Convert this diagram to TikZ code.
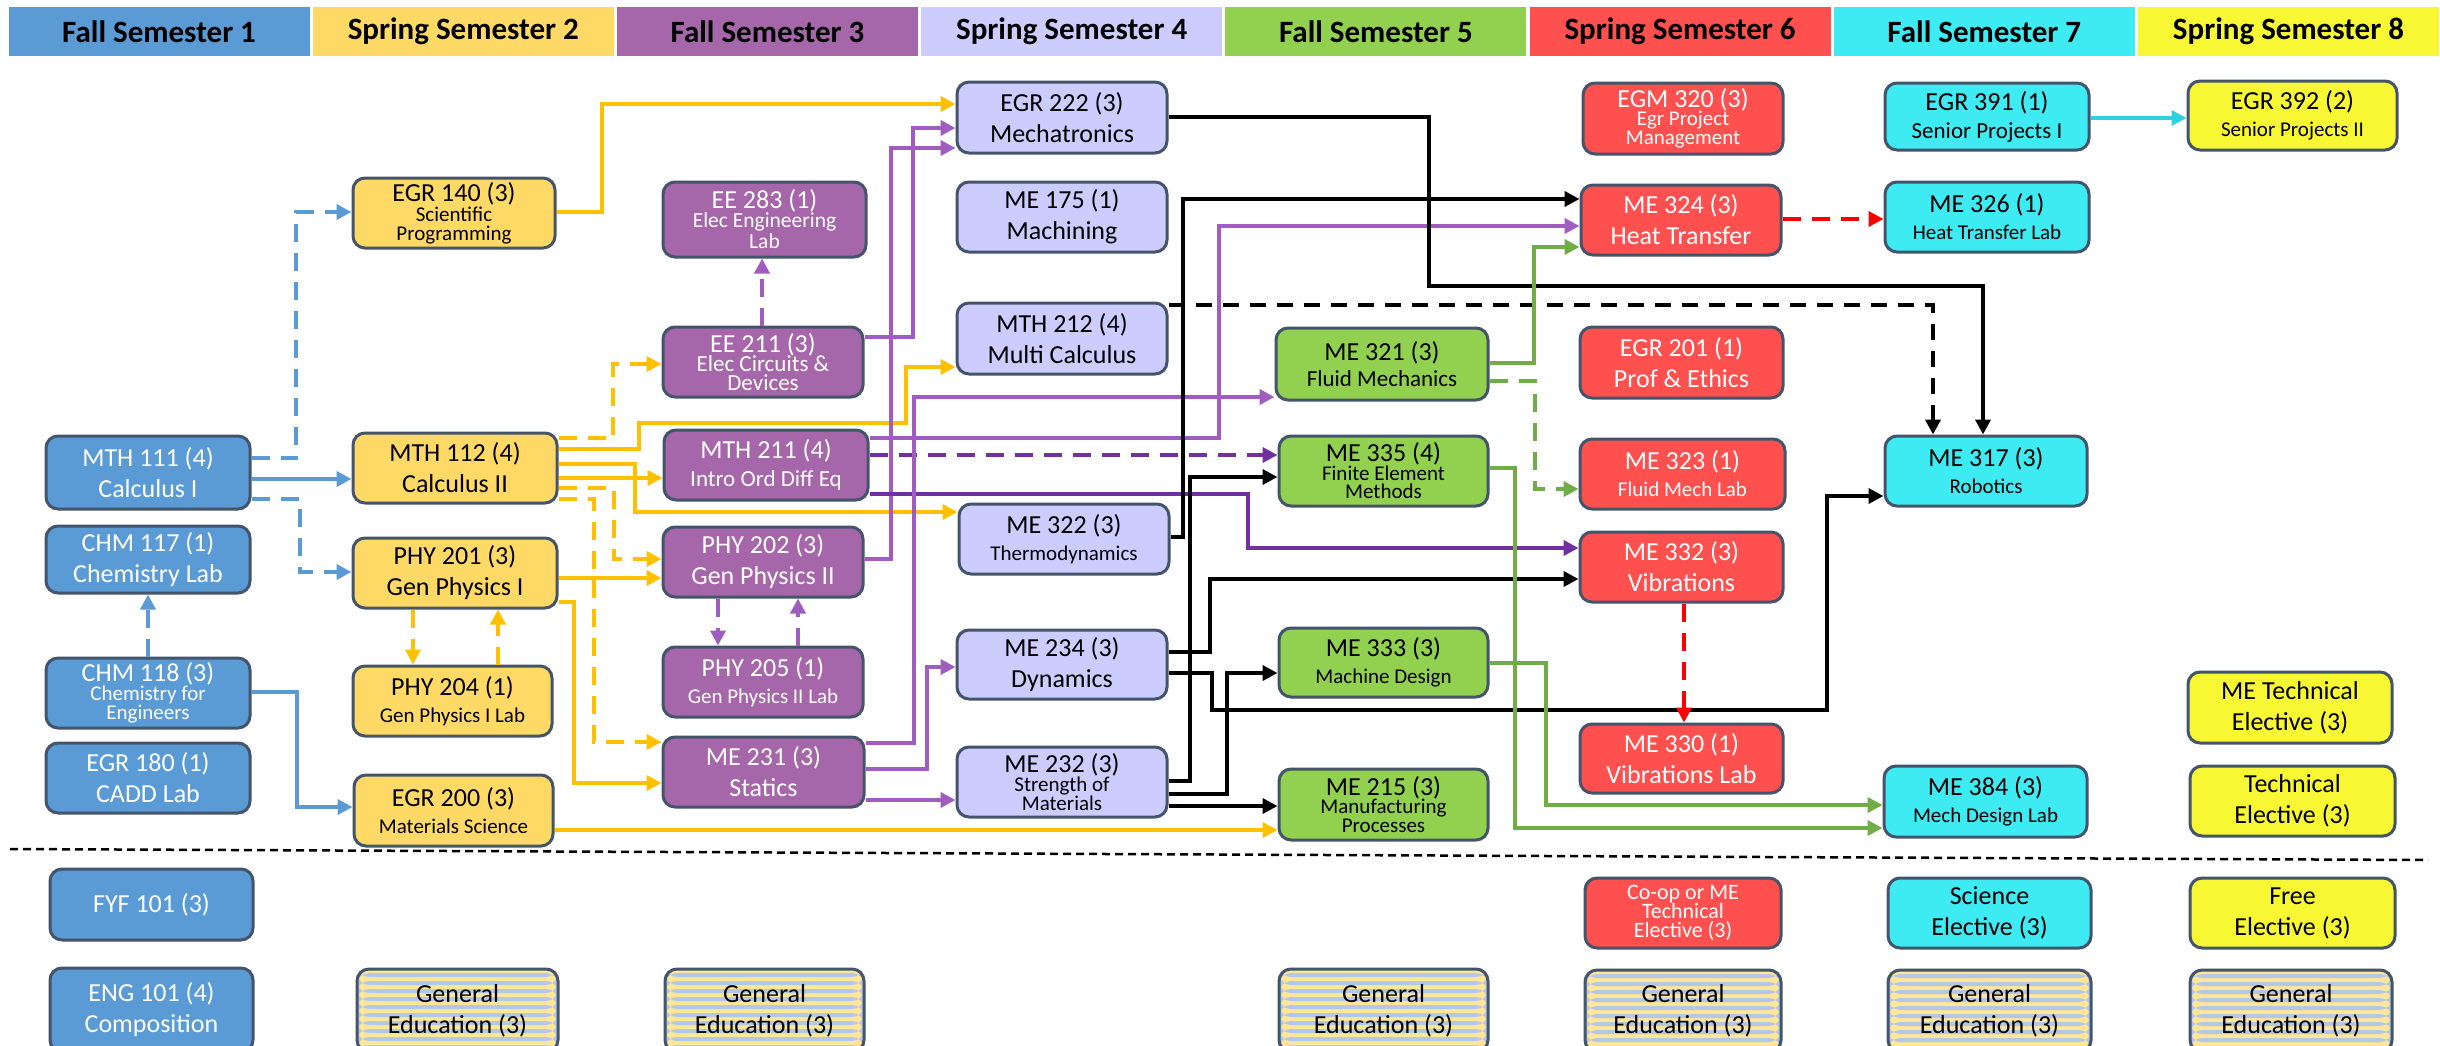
\documentclass[tikz,border=0pt]{standalone}
\usepackage{fontspec}
\setmainfont{Carlito}
\usetikzlibrary{arrows.meta}
\definecolor{cA}{HTML}{5B9BD5}
\definecolor{cB}{HTML}{FFD966}
\definecolor{cC}{HTML}{A666AA}
\definecolor{cD}{HTML}{CCCCFF}
\definecolor{cE}{HTML}{92D050}
\definecolor{cF}{HTML}{FF5050}
\definecolor{cG}{HTML}{3FEBF3}
\definecolor{cH}{HTML}{F7F733}
\definecolor{bline}{HTML}{44546A}
\definecolor{aBlue}{HTML}{5B9BD5}
\definecolor{aGold}{HTML}{FFC000}
\definecolor{aPur}{HTML}{A05CBE}
\definecolor{aDPur}{HTML}{7030A0}
\definecolor{aGrn}{HTML}{70AD47}
\definecolor{aRed}{HTML}{FF0000}
\definecolor{aCyan}{HTML}{2FD0E0}
\definecolor{geY}{HTML}{FFE699}
\definecolor{geB}{HTML}{B4C7E7}
\newcommand\Tbig{\fontsize{26}{31}\selectfont}
\newcommand\Tmid{\fontsize{23}{27}\selectfont}
\newcommand\Tsm{\fontsize{21}{25}\selectfont}
\newcommand\Tee{\fontsize{21.5}{25}\selectfont}
\newcommand\Thdr{\fontsize{31}{36}\selectfont\bfseries}
\newcommand\crs[7]{%
 \pgfmathsetmacro\bxX{(#2+#4)/2}%
 \pgfmathsetmacro\bxY{(#3+#5)/2}%
 \pgfmathsetmacro\bxW{#4-#2}%
 \pgfmathsetmacro\bxH{#5-#3}%
 \node[cbox,#6,minimum width=\bxW pt,minimum height=\bxH pt] (#1) at (\bxX,\bxY) {#7};}
\tikzset{
 cbox/.style={draw=bline, line width=3pt, rounded corners=12pt, inner sep=0pt, align=center, font=\Tbig},
 wt/.style={text=white},
 hdr/.style={inner sep=0pt, font=\Thdr, text=black},
 gened/.style={fill=geY, path picture={
   \foreach \k in {0,...,12}{
     \fill[geB] ([yshift={-(\k*8+4)*1pt}]path picture bounding box.north west) rectangle ([yshift={-(\k*8+8)*1pt}]path picture bounding box.north east);
   }}},
 conn/.style={line width=4pt, -{Triangle[length=15pt,width=15pt]}},
 dsh/.style={dash pattern=on 18pt off 11pt},
 kdsh/.style={dash pattern=on 16pt off 11pt},
 sepline/.style={line width=2.5pt, dash pattern=on 8pt off 5pt, black},
}
\begin{document}
\begin{tikzpicture}[x=1pt,y=-1pt]
\useasboundingbox (0,0) rectangle (2440,1045);
\fill[white] (0,0) rectangle (2440,1045);
\clip (0,0) rectangle (2440,1045);
% headers
\foreach \i/\t/\c in {1/Fall Semester 1/cA,2/Spring Semester 2/cB,3/Fall Semester 3/cC,4/Spring Semester 4/cD,5/Fall Semester 5/cE,6/Spring Semester 6/cF,7/Fall Semester 7/cG,8/Spring Semester 8/cH}{
  \node[hdr, fill=\c, minimum width=301pt, minimum height=49pt] (h\i) at ({8.6+304.2*(\i-1)+150.5},31.5) {\t};
}
% column 1
\crs{mth111}{46}{436}{250}{509}{fill=cA,wt}{MTH 111 (4)\\Calculus I}
\crs{chm117}{46}{526}{250}{593}{fill=cA,wt}{CHM 117 (1)\\Chemistry Lab}
\crs{chm118}{46}{658}{250}{728}{fill=cA,wt}{CHM 118 (3)\\[-12pt]{\Tsm Chemistry for}\\[-12pt]{\Tsm Engineers}}
\crs{egr180}{46}{743}{250}{813}{fill=cA,wt}{EGR 180 (1)\\CADD Lab}
\crs{fyf101}{50}{869}{253}{940}{fill=cA,wt}{FYF 101 (3)}
\crs{eng101}{50}{968}{253}{1052}{fill=cA,wt}{ENG 101 (4)\\Composition}
% column 2
\crs{egr140}{353}{178}{555}{248}{fill=cB}{EGR 140 (3)\\[-11pt]{\Tsm Scientific}\\[-12pt]{\Tsm Programming}}
\crs{mth112}{353}{433}{557}{503}{fill=cB}{MTH 112 (4)\\Calculus II}
\crs{phy201}{353}{538}{557}{608}{fill=cB}{PHY 201 (3)\\Gen Physics I}
\crs{phy204}{353}{666}{552}{736}{fill=cB}{PHY 204 (1)\\[-4pt]{\Tsm Gen Physics I Lab}}
\crs{egr200}{354}{775}{553}{846}{fill=cB}{EGR 200 (3)\\[-4pt]{\Tsm Materials Science}}
\crs{gen2}{357}{969}{558}{1052}{gened}{General\\Education (3)}
% column 3
\crs{ee283}{663}{182}{866}{257}{fill=cC,wt}{EE 283 (1)\\[-12pt]{\Tee Elec Engineering}\\[-10pt]{\Tee Lab}}
\crs{ee211}{663}{327}{863}{397}{fill=cC,wt}{EE 211 (3)\\[-12pt]{\Tmid Elec Circuits \&}\\[-12pt]{\Tmid Devices}}
\crs{mth211}{664}{430}{868}{500}{fill=cC,wt}{MTH 211 (4)\\[-3pt]{\Tmid Intro Ord Diff Eq}}
\crs{phy202}{663}{527}{863}{597}{fill=cC,wt}{PHY 202 (3)\\Gen Physics II}
\crs{phy205}{663}{647}{863}{717}{fill=cC,wt}{PHY 205 (1)\\[-4pt]{\Tsm Gen Physics II Lab}}
\crs{me231}{663}{737}{864}{807}{fill=cC,wt}{ME 231 (3)\\Statics}
\crs{gen3}{665}{969}{864}{1052}{gened}{General\\Education (3)}
% column 4
\crs{egr222}{957}{82}{1167}{153}{fill=cD}{EGR 222 (3)\\Mechatronics}
\crs{me175}{957}{182}{1167}{252}{fill=cD}{ME 175 (1)\\Machining}
\crs{mth212}{957}{303}{1167}{374}{fill=cD}{MTH 212 (4)\\Multi Calculus}
\crs{me322}{959}{504}{1169}{574}{fill=cD}{ME 322 (3)\\[-4pt]{\Tsm Thermodynamics}}
\crs{me234}{957}{630}{1167}{699}{fill=cD}{ME 234 (3)\\Dynamics}
\crs{me232}{957}{747}{1167}{817}{fill=cD}{ME 232 (3)\\[-12pt]{\Tsm Strength of}\\[-12pt]{\Tsm Materials}}
% column 5
\crs{me321}{1276}{328}{1488}{400}{fill=cE}{ME 321 (3)\\[-5pt]{\Tmid Fluid Mechanics}}
\crs{me335}{1279}{436}{1488}{506}{fill=cE}{ME 335 (4)\\[-12pt]{\Tsm Finite Element}\\[-13pt]{\Tsm Methods}}
\crs{me333}{1279}{628}{1488}{697}{fill=cE}{ME 333 (3)\\[-4pt]{\Tsm Machine Design}}
\crs{me215}{1279}{769}{1488}{840}{fill=cE}{ME 215 (3)\\[-13pt]{\Tsm Manufacturing}\\[-12pt]{\Tsm Processes}}
\crs{gen5}{1279}{969}{1488}{1052}{gened}{General\\Education (3)}
% column 6
\crs{egm320}{1583}{83}{1783}{154}{fill=cF,wt}{EGM 320 (3)\\[-13pt]{\Tsm Egr Project}\\[-12pt]{\Tsm Management}}
\crs{me324}{1581}{185}{1781}{255}{fill=cF,wt}{ME 324 (3)\\Heat Transfer}
\crs{egr201}{1580}{327}{1783}{398}{fill=cF,wt}{EGR 201 (1)\\Prof \& Ethics}
\crs{me323}{1580}{439}{1785}{509}{fill=cF,wt}{ME 323 (1)\\[-4pt]{\Tsm Fluid Mech Lab}}
\crs{me332}{1580}{532}{1783}{602}{fill=cF,wt}{ME 332 (3)\\Vibrations}
\crs{me330}{1580}{724}{1783}{793}{fill=cF,wt}{ME 330 (1)\\Vibrations Lab}
\crs{coop}{1585}{878}{1781}{948}{fill=cF,wt,font=\fontsize{22}{31}\selectfont}{Co-op or ME\\[-12pt]Technical\\[-12pt]Elective (3)}
\crs{gen6}{1585}{970}{1781}{1052}{gened}{General\\Education (3)}
% column 7
\crs{egr391}{1885}{83}{2089}{150}{fill=cG}{EGR 391 (1)\\[-3pt]{\Tmid Senior Projects I}}
\crs{me326}{1885}{182}{2089}{252}{fill=cG}{ME 326 (1)\\[-4pt]{\Tsm Heat Transfer Lab}}
\crs{me317}{1885}{436}{2087}{506}{fill=cG}{ME 317 (3)\\[-4pt]{\Tsm Robotics}}
\crs{me384}{1884}{766}{2087}{837}{fill=cG}{ME 384 (3)\\[-4pt]{\Tsm Mech Design Lab}}
\crs{scel}{1888}{878}{2091}{948}{fill=cG}{Science\\Elective (3)}
\crs{gen7}{1888}{970}{2091}{1052}{gened}{General\\Education (3)}
% column 8
\crs{egr392}{2188}{81}{2397}{150}{fill=cH}{EGR 392 (2)\\[-4pt]{\Tsm Senior Projects II}}
\crs{metech}{2188}{672}{2392}{743}{fill=cH}{ME Technical\\Elective (3)}
\crs{tech}{2190}{766}{2395}{836}{fill=cH}{Technical\\Elective (3)}
\crs{free}{2190}{878}{2395}{948}{fill=cH}{Free\\Elective (3)}
\crs{gen8}{2190}{970}{2392}{1052}{gened}{General\\Education (3)}
% separator
\draw[sepline] (10,849) -- (2428,860);
% blue connectors
\draw[conn,aBlue,dsh] (mth111.east |- 0,458) -- (296,458) |- (egr140.west |- 0,212);
\draw[conn,aBlue] (mth111.east |- 0,479) -- (mth112.west |- 0,479);
\draw[conn,aBlue,dsh] (mth111.east |- 0,499) -- (300,499) |- (phy201.west |- 0,572);
\draw[conn,aBlue,dsh] (chm118.north -| 148,0) -- (chm117.south -| 148,0);
\draw[conn,aBlue] (chm118.east |- 0,692) -- (297,692) |- (egr200.west |- 0,807);
% gold connectors
\draw[conn,aGold] (egr140.east |- 0,212) -- (602,212) |- (egr222.west |- 0,104);
\draw[conn,aGold,dsh] (mth112.east |- 0,438) -- (613,438) |- (ee211.west |- 0,364);
\draw[conn,aGold] (mth112.east |- 0,449) -- (639,449) |- (906,423) |- (mth212.west |- 0,367);
\draw[conn,aGold] (mth112.east |- 0,464) -- (635,464) |- (me322.west |- 0,512);
\draw[conn,aGold] (mth112.east |- 0,478) -- (mth211.west |- 0,478);
\draw[conn,aGold,dsh] (mth112.east |- 0,488) -- (614,488) |- (phy202.west |- 0,559);
\draw[conn,aGold,dsh] (mth112.east |- 0,499) -- (594,499) |- (me231.west |- 0,742);
\draw[conn,aGold] (phy201.east |- 0,578) -- (phy202.west |- 0,578);
\draw[conn,aGold] (phy201.east |- 0,602) -- (574,602) |- (me231.west |- 0,783);
\draw[conn,aGold,dsh] (phy201.south -| 413,0) -- (phy204.north -| 413,0);
\draw[conn,aGold,dsh] (phy204.north -| 498,0) -- (phy201.south -| 498,0);
\draw[conn,aGold] (egr200.east |- 0,830) -- (me215.west |- 0,830);
% purple connectors
\draw[conn,aPur,dsh] (ee211.north -| 762,0) -- (ee283.south -| 762,0);
\draw[conn,aPur] (ee211.east |- 0,337) -- (913,337) |- (egr222.west |- 0,128);
\draw[conn,aPur] (phy202.east |- 0,559) -- (891,559) |- (egr222.west |- 0,148);
\draw[conn,aPur] (mth211.east |- 0,438) -- (1219,438) |- (me324.west |- 0,226);
\draw[conn,aDPur,dsh] (mth211.east |- 0,455) -- (me335.west |- 0,455);
\draw[conn,aDPur] (mth211.east |- 0,494) -- (1248,494) |- (me332.west |- 0,548);
\draw[conn,aPur] (me231.east |- 0,743) -- (914,743) |- (me321.west |- 0,397);
\draw[conn,aPur] (me231.east |- 0,769) -- (927,769) |- (me234.west |- 0,667);
\draw[conn,aPur] (me231.east |- 0,800) -- (me232.west |- 0,800);
\draw[conn,aPur,dsh] (phy202.south -| 718,0) -- (phy205.north -| 718,0);
\draw[conn,aPur,dsh] (phy205.north -| 798,0) -- (phy202.south -| 798,0);
% black connectors
\draw[conn,black] (egr222.east |- 0,117) -- (1429,117) |- (1983,286) -- (me317.north -| 1983,0);
\draw[conn,black,kdsh] (mth212.east |- 0,305) -| (me317.north -| 1933,0);
\draw[conn,black] (me322.east |- 0,537) -- (1183,537) |- (me324.west |- 0,199);
\draw[conn,black] (me234.east |- 0,652) -- (1210,652) |- (me332.west |- 0,579);
\draw[conn,black] (me234.east |- 0,673) -- (1212,673) |- (1827,710) |- (me317.west |- 0,496);
\draw[conn,black] (me232.east |- 0,781) -- (1190,781) |- (me335.west |- 0,477);
\draw[conn,black] (me232.east |- 0,794) -- (1227,794) |- (me333.west |- 0,673);
\draw[conn,black] (me232.east |- 0,806) -- (me215.west |- 0,806);
% green connectors
\draw[conn,aGrn] (me321.east |- 0,363) -- (1534,363) |- (me324.west |- 0,247);
\draw[conn,aGrn,dsh] (me321.east |- 0,381) -- (1535,381) |- (me323.west |- 0,489);
\draw[conn,aGrn] (me335.east |- 0,468) -- (1515,468) |- (me384.west |- 0,828);
\draw[conn,aGrn] (me333.east |- 0,663) -- (1546,663) |- (me384.west |- 0,805);
% red dashed
\draw[conn,aRed,dsh,line width=3.5pt] (me324.east |- 0,219) -- (me326.west |- 0,219);
\draw[conn,aRed,dsh,line width=3.5pt] (me332.south -| 1684,0) -- (me330.north -| 1684,0);
% cyan
\draw[conn,aCyan] (egr391.east |- 0,118) -- (egr392.west |- 0,118);
\end{tikzpicture}
\end{document}
